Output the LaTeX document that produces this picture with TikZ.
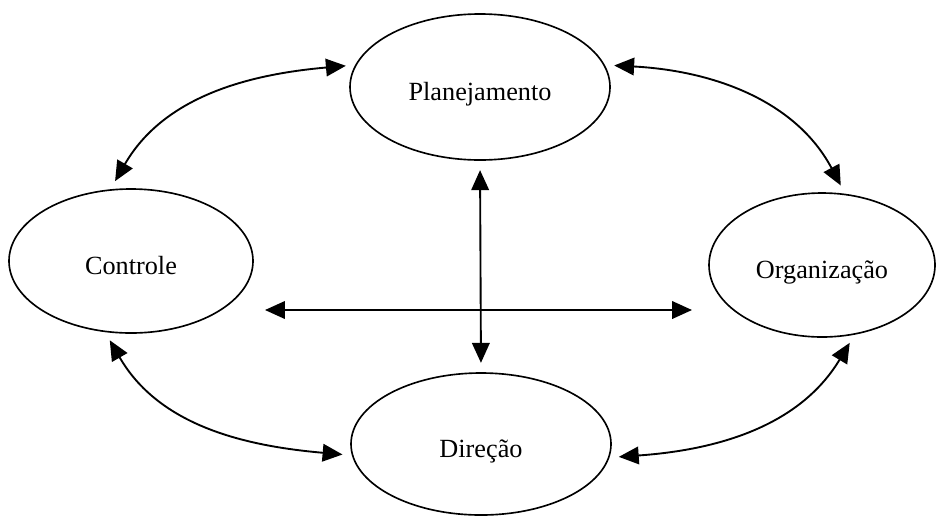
\documentclass[tikz,border=0pt]{standalone}
\usepackage{fontspec}
\setmainfont{Liberation Serif}
\usetikzlibrary{arrows.meta}
\usetikzlibrary{shapes.geometric}

\tikzset{
  fase/.style={draw=black, line width=0.7pt, shape=ellipse, align=center, text height=1.35em, text depth=0.2em, font=\fontsize{11.2}{13}\selectfont},
  seta/.style={thick, {Triangle[length=8.5pt,width=7.5pt]}-{Triangle[length=8.5pt,width=7.5pt]}, shorten <=0.14cm, shorten >=0.14cm}
}

\begin{document}
\begin{tikzpicture}

\useasboundingbox (0, 0) rectangle (14.04, 7.725);

\node[fase, minimum width=3.9cm, minimum height=2.19cm] (planejamento) at (7.2, 6.42) {Planejamento};
\node[fase, minimum width=3.66cm, minimum height=2.16cm] (controle) at (1.965, 3.81) {Controle};
\node[fase, minimum width=3.39cm, minimum height=2.16cm] (organizacao) at (12.33, 3.75) {Organização};
\node[fase, minimum width=3.9cm, minimum height=2.13cm] (direcao) at (7.215, 1.065) {Direção};

\coordinate (hesq) at (3.975, 3.075);
\coordinate (hdir) at (10.38, 3.075);

\draw[seta] (controle.106) to[out=60, in=185] (planejamento.170);
\draw[seta] (planejamento.10) to[out=-3, in=118] (organizacao.72);
\draw[seta] (direcao.-6) to[out=4, in=239] (organizacao.-65);
\draw[seta] (controle.-110) to[out=-60, in=175] (direcao.185);
\draw[seta] (planejamento.south) -- (direcao.north);
\draw[seta, shorten <=0pt, shorten >=0pt] (hesq) -- (hdir);

\end{tikzpicture}
\end{document}
